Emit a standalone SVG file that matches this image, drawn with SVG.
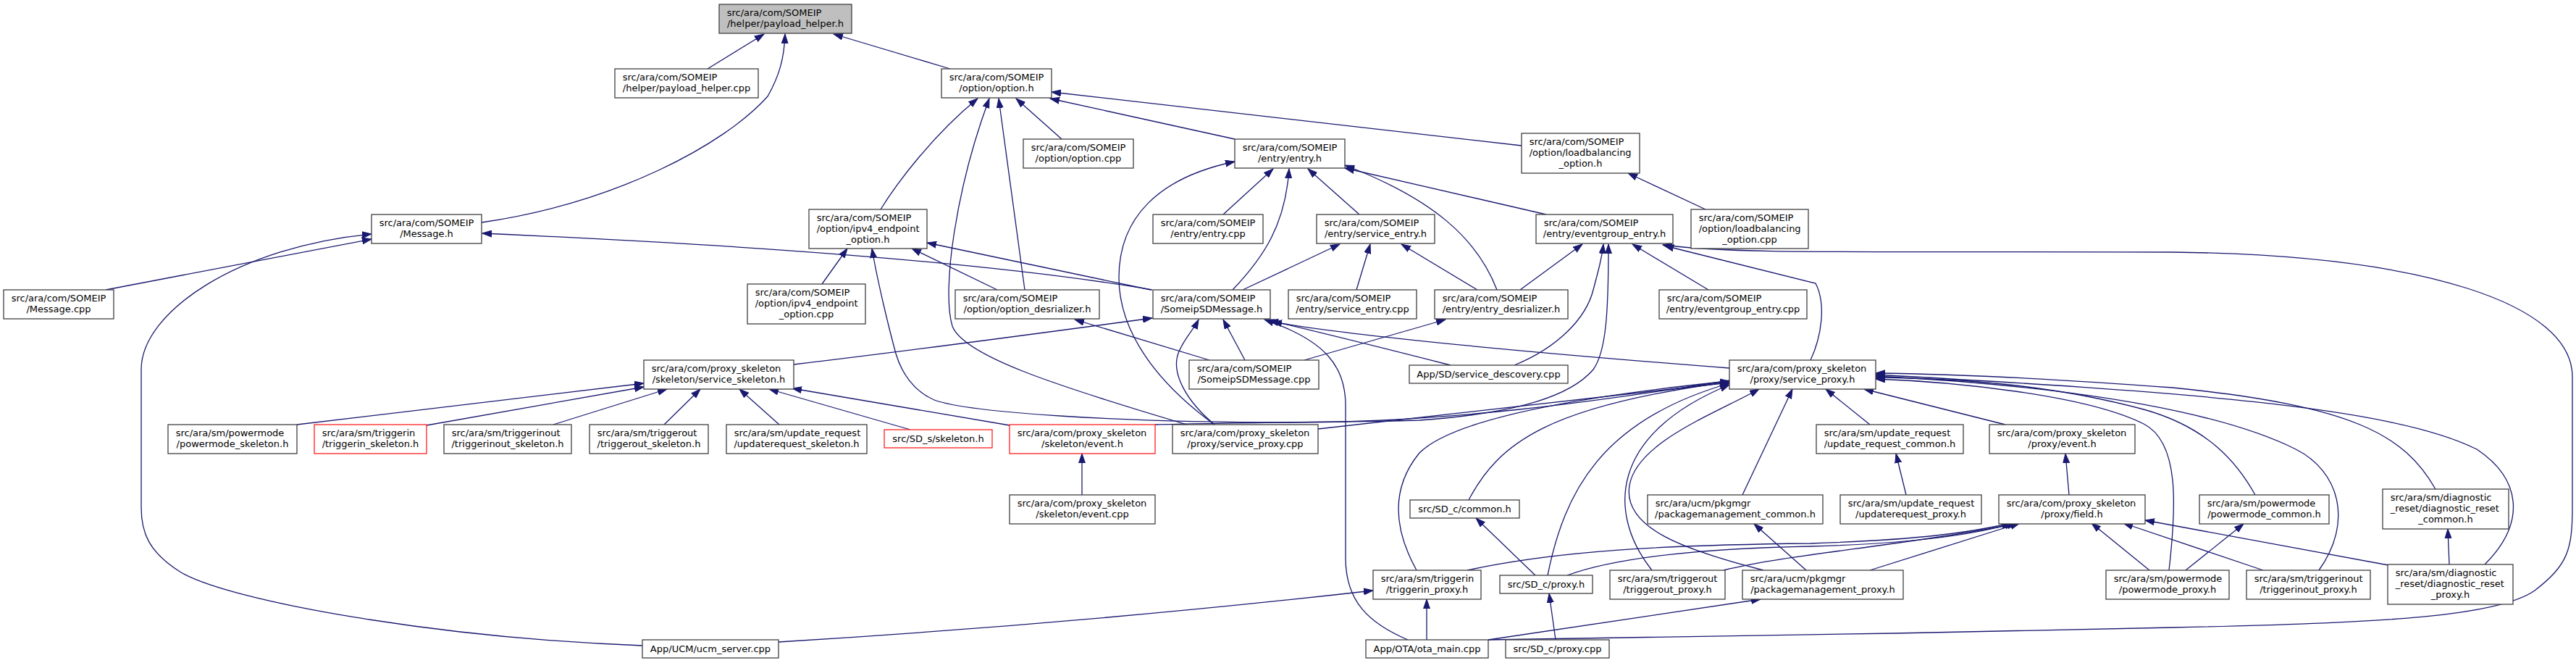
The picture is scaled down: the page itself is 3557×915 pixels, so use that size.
<svg xmlns="http://www.w3.org/2000/svg" width="3557" height="915" viewBox="0 0 3557 915">
<style>
.n rect{fill:#fff;stroke:#404040;stroke-width:1.3}
.n.root rect{fill:#bfbfbf}
.n.red rect{stroke:#ff2020}
.n text{font-family:"DejaVu Sans",sans-serif;font-size:13px;fill:#000}
.n text.c{text-anchor:middle}
.e path{fill:none;stroke:#191970;stroke-width:1.3;marker-end:url(#ah)}
</style>
<defs>
<marker id="ah" markerUnits="userSpaceOnUse" markerWidth="14" markerHeight="10" refX="13" refY="5" orient="auto"><path d="M0,0.5 L13,5 L0,9.5 z" fill="#191970" stroke="#191970" stroke-width="1"/></marker>
</defs>
<rect width="3557" height="915" fill="#fff"/>
<g id="edges" class="e">
<path d="M977,95 L1055,47"/>
<path d="M665,307 C850,280 1000,200 1060,133 C1076,105 1083,80 1084,47"/>
<path d="M1312,95 L1151,47"/>
<path d="M1216,289 C1240,250 1290,185 1350,136"/>
<path d="M1639,586 C1450,530 1330,490 1315,450 C1300,400 1320,260 1366,136"/>
<path d="M1415,400 L1379,136"/>
<path d="M1466,192 L1403,136"/>
<path d="M1705,192 L1450,136"/>
<path d="M2101,201 L1452,127"/>
<path d="M146,400 L513,330"/>
<path d="M887,891 C600,880 320,830 250,790 C205,762 195,735 195,700 L195,510 C195,430 330,340 513,323"/>
<path d="M1591,400 Q1300,350 666,322"/>
<path d="M1135,392 L1170,343"/>
<path d="M1377,400 L1259,343"/>
<path d="M1589,400 L1280,335"/>
<path d="M2388,525 C2200,555 2000,583 1780,583 C1550,583 1340,570 1290,552 C1262,540 1245,515 1237,488 C1228,455 1212,390 1204,343"/>
<path d="M1689,296 L1758,233"/>
<path d="M1702,400 C1745,355 1775,310 1780,233"/>
<path d="M1677,586 C1600,530 1545,460 1545,383 C1545,300 1600,245 1705,223"/>
<path d="M1877,296 L1806,233"/>
<path d="M2067,400 C2040,330 1980,275 1857,228"/>
<path d="M2135,296 L1857,232"/>
<path d="M1716,400 L1850,337"/>
<path d="M1873,400 L1892,337"/>
<path d="M2040,400 L1935,337"/>
<path d="M2099,400 L2185,337"/>
<path d="M2091,504 C2150,480 2190,440 2200,400 C2208,370 2212,355 2214,337"/>
<path d="M1595,586 C1700,583 1900,582 1960,580 C2100,570 2170,545 2200,510 C2218,485 2221,430 2221,337"/>
<path d="M2359,400 L2254,337"/>
<path d="M2055,883 C2300,880 2700,873 3000,866 C3300,860 3450,850 3500,815 C3545,780 3552,760 3552,700 L3552,520 C3552,420 3350,352 3000,348 C2600,346 2400,352 2296,338"/>
<path d="M2500,497 C2515,465 2522,420 2507,391 L2298,339"/>
<path d="M1096,503 Q1250,485 1591,439"/>
<path d="M1719,497 L1689,441"/>
<path d="M1677,586 C1640,555 1615,515 1628,485 C1636,466 1648,455 1655,441"/>
<path d="M1944,883 C1890,860 1858,830 1858,770 L1858,560 C1858,505 1830,470 1746,441"/>
<path d="M2003,504 Q1850,465 1752,442"/>
<path d="M2388,508 Q1900,470 1757,444"/>
<path d="M1494,683 L1494,626"/>
<path d="M410,586 L889,529"/>
<path d="M589,587 L889,534"/>
<path d="M764,586 L921,537"/>
<path d="M917,586 L967,537"/>
<path d="M1076,586 L1021,537"/>
<path d="M1257,593 L1062,537"/>
<path d="M1394,587 L1094,536"/>
<path d="M1820,592 L2388,528"/>
<path d="M1956,787 C1930,740 1915,680 1960,625 C2010,575 2200,545 2388,526"/>
<path d="M2028,690 C2070,610 2140,560 2388,527"/>
<path d="M2137,794 C2160,680 2210,580 2388,529"/>
<path d="M2281,787 C2220,710 2220,600 2388,531"/>
<path d="M2435,787 C2330,760 2240,730 2250,670 C2260,610 2370,570 2429,537"/>
<path d="M2406,683 L2475,537"/>
<path d="M2582,586 L2521,537"/>
<path d="M2769,586 L2574,537"/>
<path d="M3363,675 C3320,600 3250,560 3000,535 C2800,520 2680,516 2590,515"/>
<path d="M3431,779 C3490,720 3480,660 3420,620 C3300,560 3000,540 2590,517"/>
<path d="M3202,787 C3250,720 3230,650 3170,620 C3080,575 2900,535 2590,519"/>
<path d="M3114,683 C3090,640 3050,590 2960,565 C2830,530 2700,522 2590,521"/>
<path d="M2995,787 C3005,700 3010,610 2960,585 C2880,545 2700,527 2590,523"/>
<path d="M2857,683 L2852,626"/>
<path d="M2026,787 C2150,760 2300,752 2500,750 C2650,745 2720,735 2777,722"/>
<path d="M2164,794 C2230,770 2350,757 2500,754 C2650,750 2730,737 2781,722"/>
<path d="M2380,787 C2450,770 2550,760 2650,745 C2720,735 2760,728 2785,722"/>
<path d="M2582,787 L2789,722"/>
<path d="M2968,787 L2888,722"/>
<path d="M3125,787 L2932,722"/>
<path d="M3298,780 L2962,718"/>
<path d="M2632,683 L2618,626"/>
<path d="M2494,787 L2422,723"/>
<path d="M2055,883 L2431,827"/>
<path d="M3018,787 L3098,723"/>
<path d="M3382,779 L3380,730"/>
<path d="M2120,794 L2038,715"/>
<path d="M2148,883 L2139,819"/>
<path d="M1970,883 L1970,827"/>
<path d="M1075,886 Q1500,860 1896,815"/>
<path d="M2355,289 L2248,239"/>
<path d="M1670,497 L1484,441"/>
<path d="M1801,497 L1996,441"/>
</g>
<g id="n_payload_helper_h" class="n root"><rect x="993" y="6" width="183" height="40"/><text x="1003.7" y="22">src/ara/com/SOMEIP</text><text class="c" x="1084.5" y="37">/helper/payload_helper.h</text></g>
<g id="n_payload_helper_cpp" class="n"><rect x="849" y="95" width="198" height="40"/><text x="859.7" y="111">src/ara/com/SOMEIP</text><text class="c" x="948" y="126">/helper/payload_helper.cpp</text></g>
<g id="n_option_h" class="n"><rect x="1300" y="95" width="152" height="40"/><text x="1310.7" y="111">src/ara/com/SOMEIP</text><text class="c" x="1376" y="126">/option/option.h</text></g>
<g id="n_option_cpp" class="n"><rect x="1413" y="192" width="152" height="40"/><text x="1423.7" y="208">src/ara/com/SOMEIP</text><text class="c" x="1489" y="223">/option/option.cpp</text></g>
<g id="n_entry_h" class="n"><rect x="1705" y="192" width="152" height="40"/><text x="1715.7" y="208">src/ara/com/SOMEIP</text><text class="c" x="1781" y="223">/entry/entry.h</text></g>
<g id="n_loadbalancing_option_h" class="n"><rect x="2101" y="184" width="163" height="55"/><text x="2111.7" y="200">src/ara/com/SOMEIP</text><text x="2111.7" y="215">/option/loadbalancing</text><text class="c" x="2182.5" y="230">_option.h</text></g>
<g id="n_message_h" class="n"><rect x="513" y="296" width="152" height="40"/><text x="523.7" y="312">src/ara/com/SOMEIP</text><text class="c" x="589" y="327">/Message.h</text></g>
<g id="n_ipv4_endpoint_option_h" class="n"><rect x="1117" y="289" width="163" height="54"/><text x="1127.7" y="305">src/ara/com/SOMEIP</text><text x="1127.7" y="320">/option/ipv4_endpoint</text><text class="c" x="1198.5" y="335">_option.h</text></g>
<g id="n_entry_cpp" class="n"><rect x="1592" y="296" width="152" height="40"/><text x="1602.7" y="312">src/ara/com/SOMEIP</text><text class="c" x="1668" y="327">/entry/entry.cpp</text></g>
<g id="n_service_entry_h" class="n"><rect x="1818" y="296" width="163" height="40"/><text x="1828.7" y="312">src/ara/com/SOMEIP</text><text class="c" x="1899.5" y="327">/entry/service_entry.h</text></g>
<g id="n_eventgroup_entry_h" class="n"><rect x="2121" y="296" width="189" height="40"/><text x="2131.7" y="312">src/ara/com/SOMEIP</text><text class="c" x="2215.5" y="327">/entry/eventgroup_entry.h</text></g>
<g id="n_loadbalancing_option_cpp" class="n"><rect x="2335" y="289" width="162" height="54"/><text x="2345.7" y="305">src/ara/com/SOMEIP</text><text x="2345.7" y="320">/option/loadbalancing</text><text class="c" x="2416" y="335">_option.cpp</text></g>
<g id="n_message_cpp" class="n"><rect x="5" y="400" width="152" height="40"/><text x="15.7" y="416">src/ara/com/SOMEIP</text><text class="c" x="81" y="431">/Message.cpp</text></g>
<g id="n_ipv4_endpoint_option_cpp" class="n"><rect x="1032" y="392" width="163" height="55"/><text x="1042.7" y="408">src/ara/com/SOMEIP</text><text x="1042.7" y="423">/option/ipv4_endpoint</text><text class="c" x="1113.5" y="438">_option.cpp</text></g>
<g id="n_option_desrializer_h" class="n"><rect x="1319" y="400" width="199" height="40"/><text x="1329.7" y="416">src/ara/com/SOMEIP</text><text class="c" x="1418.5" y="431">/option/option_desrializer.h</text></g>
<g id="n_someipsdmessage_h" class="n"><rect x="1592" y="400" width="162" height="40"/><text x="1602.7" y="416">src/ara/com/SOMEIP</text><text class="c" x="1673" y="431">/SomeipSDMessage.h</text></g>
<g id="n_service_entry_cpp" class="n"><rect x="1779" y="400" width="177" height="40"/><text x="1789.7" y="416">src/ara/com/SOMEIP</text><text class="c" x="1867.5" y="431">/entry/service_entry.cpp</text></g>
<g id="n_entry_desrializer_h" class="n"><rect x="1981" y="400" width="184" height="40"/><text x="1991.7" y="416">src/ara/com/SOMEIP</text><text class="c" x="2073" y="431">/entry/entry_desrializer.h</text></g>
<g id="n_eventgroup_entry_cpp" class="n"><rect x="2291" y="400" width="204" height="40"/><text x="2301.7" y="416">src/ara/com/SOMEIP</text><text class="c" x="2393" y="431">/entry/eventgroup_entry.cpp</text></g>
<g id="n_service_skeleton_h" class="n"><rect x="889" y="497" width="207" height="40"/><text x="899.7" y="513">src/ara/com/proxy_skeleton</text><text class="c" x="992.5" y="528">/skeleton/service_skeleton.h</text></g>
<g id="n_someipsdmessage_cpp" class="n"><rect x="1642" y="497" width="179" height="40"/><text x="1652.7" y="513">src/ara/com/SOMEIP</text><text class="c" x="1731.5" y="528">/SomeipSDMessage.cpp</text></g>
<g id="n_service_descovery_cpp" class="n"><rect x="1946" y="504" width="219" height="25"/><text class="c" x="2055.5" y="521">App/SD/service_descovery.cpp</text></g>
<g id="n_service_proxy_h" class="n"><rect x="2388" y="497" width="202" height="40"/><text x="2398.7" y="513">src/ara/com/proxy_skeleton</text><text class="c" x="2489" y="528">/proxy/service_proxy.h</text></g>
<g id="n_powermode_skeleton_h" class="n"><rect x="232" y="586" width="178" height="40"/><text x="242.7" y="602">src/ara/sm/powermode</text><text class="c" x="321" y="617">/powermode_skeleton.h</text></g>
<g id="n_triggerin_skeleton_h" class="n red"><rect x="434" y="586" width="155" height="40"/><text x="444.7" y="602">src/ara/sm/triggerin</text><text class="c" x="511.5" y="617">/triggerin_skeleton.h</text></g>
<g id="n_triggerinout_skeleton_h" class="n"><rect x="613" y="586" width="176" height="40"/><text x="623.7" y="602">src/ara/sm/triggerinout</text><text class="c" x="701" y="617">/triggerinout_skeleton.h</text></g>
<g id="n_triggerout_skeleton_h" class="n"><rect x="814" y="586" width="164" height="40"/><text x="824.7" y="602">src/ara/sm/triggerout</text><text class="c" x="896" y="617">/triggerout_skeleton.h</text></g>
<g id="n_updaterequest_skeleton_h" class="n"><rect x="1003" y="586" width="194" height="40"/><text x="1013.7" y="602">src/ara/sm/update_request</text><text class="c" x="1100" y="617">/updaterequest_skeleton.h</text></g>
<g id="n_sd_s_skeleton_h" class="n red"><rect x="1221" y="593" width="149" height="25"/><text class="c" x="1295.5" y="610">src/SD_s/skeleton.h</text></g>
<g id="n_skeleton_event_h" class="n red"><rect x="1394" y="586" width="201" height="40"/><text x="1404.7" y="602">src/ara/com/proxy_skeleton</text><text class="c" x="1494.5" y="617">/skeleton/event.h</text></g>
<g id="n_service_proxy_cpp" class="n"><rect x="1619" y="586" width="201" height="40"/><text x="1629.7" y="602">src/ara/com/proxy_skeleton</text><text class="c" x="1719.5" y="617">/proxy/service_proxy.cpp</text></g>
<g id="n_update_request_common_h" class="n"><rect x="2508" y="586" width="203" height="40"/><text x="2518.7" y="602">src/ara/sm/update_request</text><text class="c" x="2609.5" y="617">/update_request_common.h</text></g>
<g id="n_proxy_event_h" class="n"><rect x="2747" y="586" width="201" height="40"/><text x="2757.7" y="602">src/ara/com/proxy_skeleton</text><text class="c" x="2847.5" y="617">/proxy/event.h</text></g>
<g id="n_skeleton_event_cpp" class="n"><rect x="1394" y="683" width="201" height="40"/><text x="1404.7" y="699">src/ara/com/proxy_skeleton</text><text class="c" x="1494.5" y="714">/skeleton/event.cpp</text></g>
<g id="n_sd_c_common_h" class="n"><rect x="1947" y="690" width="151" height="25"/><text class="c" x="2022.5" y="707">src/SD_c/common.h</text></g>
<g id="n_packagemanagement_common_h" class="n"><rect x="2275" y="683" width="242" height="40"/><text x="2285.7" y="699">src/ara/ucm/pkgmgr</text><text class="c" x="2396" y="714">/packagemanagement_common.h</text></g>
<g id="n_updaterequest_proxy_h" class="n"><rect x="2541" y="683" width="195" height="40"/><text x="2551.7" y="699">src/ara/sm/update_request</text><text class="c" x="2638.5" y="714">/updaterequest_proxy.h</text></g>
<g id="n_field_h" class="n"><rect x="2760" y="683" width="202" height="40"/><text x="2770.7" y="699">src/ara/com/proxy_skeleton</text><text class="c" x="2861" y="714">/proxy/field.h</text></g>
<g id="n_powermode_common_h" class="n"><rect x="3037" y="683" width="179" height="40"/><text x="3047.7" y="699">src/ara/sm/powermode</text><text class="c" x="3126.5" y="714">/powermode_common.h</text></g>
<g id="n_diagnostic_reset_common_h" class="n"><rect x="3290" y="675" width="174" height="55"/><text x="3300.7" y="691">src/ara/sm/diagnostic</text><text x="3300.7" y="706">_reset/diagnostic_reset</text><text class="c" x="3377" y="721">_common.h</text></g>
<g id="n_triggerin_proxy_h" class="n"><rect x="1896" y="787" width="149" height="40"/><text x="1906.7" y="803">src/ara/sm/triggerin</text><text class="c" x="1970.5" y="818">/triggerin_proxy.h</text></g>
<g id="n_sd_c_proxy_h" class="n"><rect x="2071" y="794" width="128" height="25"/><text class="c" x="2135" y="811">src/SD_c/proxy.h</text></g>
<g id="n_triggerout_proxy_h" class="n"><rect x="2223" y="787" width="159" height="40"/><text x="2233.7" y="803">src/ara/sm/triggerout</text><text class="c" x="2302.5" y="818">/triggerout_proxy.h</text></g>
<g id="n_packagemanagement_proxy_h" class="n"><rect x="2406" y="787" width="222" height="40"/><text x="2416.7" y="803">src/ara/ucm/pkgmgr</text><text class="c" x="2517" y="818">/packagemanagement_proxy.h</text></g>
<g id="n_powermode_proxy_h" class="n"><rect x="2908" y="787" width="170" height="40"/><text x="2918.7" y="803">src/ara/sm/powermode</text><text class="c" x="2993" y="818">/powermode_proxy.h</text></g>
<g id="n_triggerinout_proxy_h" class="n"><rect x="3102" y="787" width="171" height="40"/><text x="3112.7" y="803">src/ara/sm/triggerinout</text><text class="c" x="3187.5" y="818">/triggerinout_proxy.h</text></g>
<g id="n_diagnostic_reset_proxy_h" class="n"><rect x="3297" y="779" width="173" height="55"/><text x="3307.7" y="795">src/ara/sm/diagnostic</text><text x="3307.7" y="810">_reset/diagnostic_reset</text><text class="c" x="3383.5" y="825">_proxy.h</text></g>
<g id="n_ucm_server_cpp" class="n"><rect x="887" y="883" width="188" height="25"/><text class="c" x="981" y="900">App/UCM/ucm_server.cpp</text></g>
<g id="n_ota_main_cpp" class="n"><rect x="1886" y="883" width="169" height="25"/><text class="c" x="1970.5" y="900">App/OTA/ota_main.cpp</text></g>
<g id="n_sd_c_proxy_cpp" class="n"><rect x="2079" y="883" width="143" height="25"/><text class="c" x="2150.5" y="900">src/SD_c/proxy.cpp</text></g>
</svg>
